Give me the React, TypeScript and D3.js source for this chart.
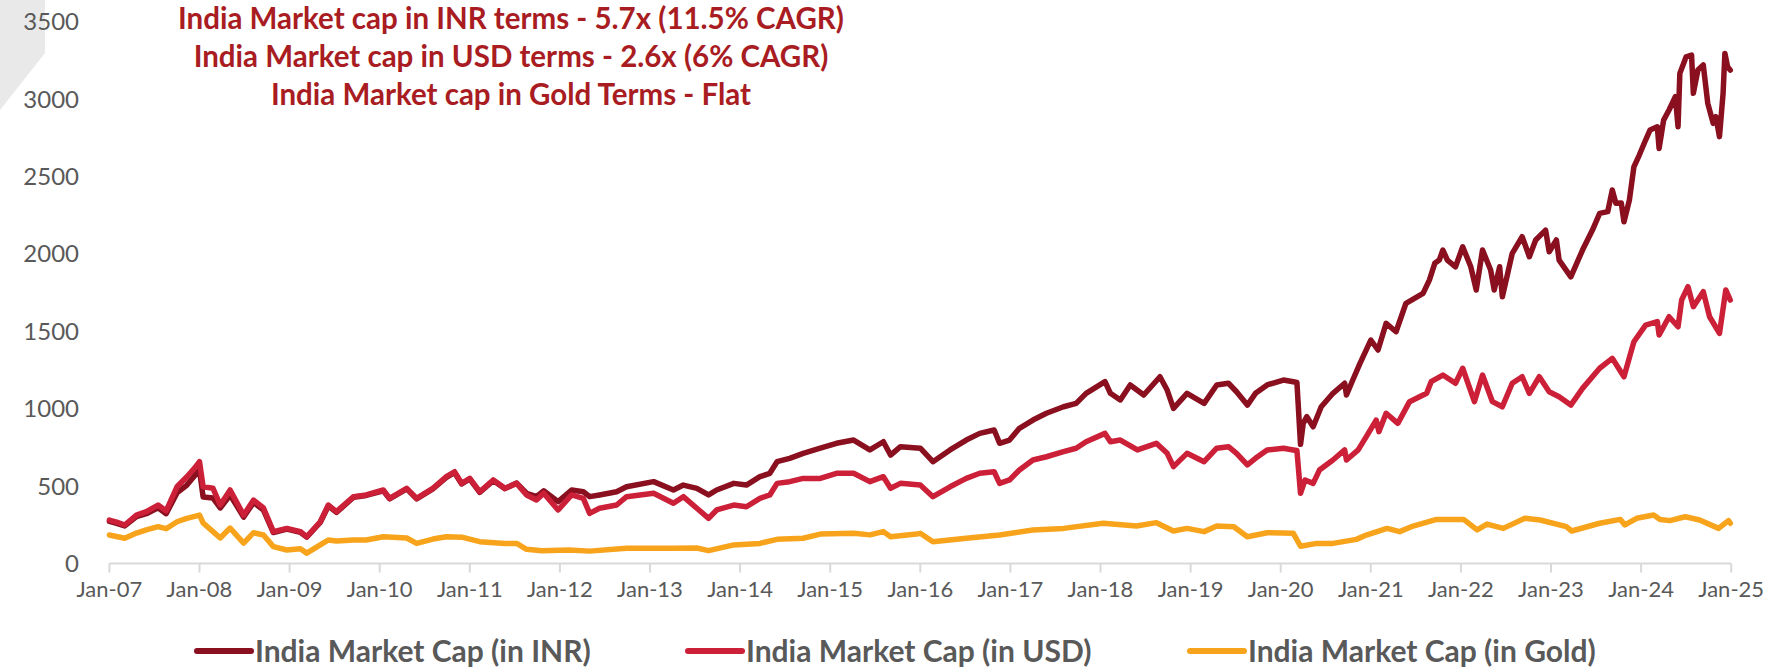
import React from 'react';
import * as d3 from 'd3';

const W = 1768;
const H = 668;

const titleLines = [
  'India Market cap in INR terms - 5.7x (11.5% CAGR)',
  'India Market cap in USD terms - 2.6x (6% CAGR)',
  'India Market cap in Gold Terms - Flat',
];

const xTickYears = d3.range(2007, 2026);
const yTickValues = [0, 500, 1000, 1500, 2000, 2500, 3000, 3500];

const seriesNames = ['India Market Cap (in INR)', 'India Market Cap (in USD)', 'India Market Cap (in Gold)'];
const seriesColors = ['#8A0F1F', '#CC2039', '#F7A41C'];

const inrYears = [2007.00,2007.08,2007.17,2007.30,2007.41,2007.54,2007.63,2007.75,2007.86,2007.95,2008.00,2008.04,2008.15,2008.23,2008.34,2008.49,2008.60,2008.71,2008.82,2008.97,2009.12,2009.19,2009.34,2009.43,2009.52,2009.71,2009.85,2010.04,2010.11,2010.30,2010.41,2010.59,2010.74,2010.83,2010.91,2011.00,2011.11,2011.26,2011.39,2011.52,2011.63,2011.74,2011.82,2011.98,2012.13,2012.26,2012.33,2012.44,2012.63,2012.74,2013.04,2013.26,2013.37,2013.52,2013.65,2013.74,2013.93,2014.07,2014.22,2014.33,2014.41,2014.55,2014.70,2014.89,2015.07,2015.26,2015.44,2015.59,2015.67,2015.78,2016.00,2016.14,2016.33,2016.51,2016.66,2016.82,2016.88,2016.99,2017.10,2017.25,2017.40,2017.59,2017.73,2017.84,2018.05,2018.11,2018.22,2018.33,2018.48,2018.66,2018.74,2018.81,2018.96,2019.15,2019.29,2019.42,2019.51,2019.63,2019.72,2019.85,2020.03,2020.14,2020.18,2020.22,2020.25,2020.29,2020.36,2020.45,2020.58,2020.71,2020.73,2020.80,2020.88,2021.00,2021.08,2021.17,2021.28,2021.39,2021.58,2021.65,2021.71,2021.76,2021.80,2021.85,2021.94,2022.02,2022.11,2022.17,2022.24,2022.33,2022.37,2022.43,2022.46,2022.57,2022.68,2022.76,2022.83,2022.94,2022.98,2023.06,2023.09,2023.22,2023.35,2023.46,2023.54,2023.63,2023.68,2023.72,2023.78,2023.81,2023.87,2023.92,2023.98,2024.05,2024.10,2024.18,2024.20,2024.25,2024.31,2024.38,2024.41,2024.43,2024.50,2024.56,2024.58,2024.63,2024.69,2024.74,2024.80,2024.83,2024.87,2024.91,2024.93,2024.96,2024.99];
const inrValues = [272,260,243,303,322,360,322,456,507,570,605,430,423,359,443,300,395,345,200,222,202,170,265,372,330,428,440,470,418,482,418,482,556,588,514,546,460,536,484,520,454,432,470,400,475,464,432,443,464,496,529,475,507,486,443,475,518,507,561,583,658,680,712,745,777,798,734,787,701,755,745,658,734,798,841,863,777,798,874,927,971,1013,1035,1100,1175,1100,1057,1154,1089,1207,1121,1003,1100,1035,1154,1165,1110,1024,1100,1154,1186,1175,1170,770,906,949,884,1013,1100,1165,1089,1186,1294,1444,1380,1552,1498,1682,1746,1832,1940,1961,2026,1961,1918,2047,1918,1768,2026,1897,1768,1918,1724,2005,2112,1983,2091,2155,2015,2091,1961,1853,2026,2155,2263,2274,2414,2328,2330,2209,2349,2564,2640,2737,2802,2823,2683,2866,2931,3017,2823,3168,3275,3286,3039,3189,3222,2974,2845,2888,2759,3039,3297,3211,3189];

const usdYears = [2007.00,2007.08,2007.17,2007.30,2007.41,2007.54,2007.63,2007.75,2007.86,2007.95,2008.00,2008.04,2008.15,2008.23,2008.34,2008.49,2008.60,2008.71,2008.82,2008.97,2009.12,2009.19,2009.34,2009.43,2009.52,2009.71,2009.85,2010.04,2010.11,2010.30,2010.41,2010.59,2010.74,2010.83,2010.91,2011.00,2011.11,2011.26,2011.39,2011.52,2011.63,2011.74,2011.82,2011.98,2012.13,2012.26,2012.33,2012.44,2012.63,2012.74,2013.04,2013.26,2013.37,2013.52,2013.65,2013.74,2013.93,2014.07,2014.22,2014.33,2014.41,2014.55,2014.70,2014.89,2015.07,2015.26,2015.44,2015.59,2015.67,2015.78,2016.00,2016.14,2016.33,2016.51,2016.66,2016.82,2016.88,2016.99,2017.10,2017.25,2017.40,2017.59,2017.73,2017.84,2018.05,2018.11,2018.22,2018.41,2018.62,2018.74,2018.81,2018.96,2019.15,2019.29,2019.42,2019.51,2019.63,2019.72,2019.85,2020.03,2020.14,2020.18,2020.22,2020.27,2020.36,2020.43,2020.58,2020.71,2020.73,2020.86,2020.95,2021.06,2021.09,2021.17,2021.30,2021.43,2021.62,2021.67,2021.80,2021.94,2022.02,2022.15,2022.24,2022.35,2022.46,2022.57,2022.68,2022.76,2022.87,2022.98,2023.09,2023.22,2023.35,2023.54,2023.68,2023.81,2023.92,2024.05,2024.18,2024.20,2024.31,2024.41,2024.45,2024.52,2024.58,2024.69,2024.76,2024.87,2024.94,2024.99];
const usdValues = [281,268,249,313,335,378,340,496,561,620,658,496,486,378,475,313,410,359,206,227,206,173,270,378,335,432,443,475,421,486,421,486,561,593,518,550,464,540,486,518,443,410,454,346,443,421,324,357,378,432,454,389,432,357,292,346,378,367,421,443,518,529,550,550,583,583,529,561,486,518,507,432,496,550,583,593,518,540,604,669,690,723,745,787,841,787,798,734,777,712,626,712,658,745,755,712,637,680,734,745,734,730,454,540,518,604,669,734,669,734,820,927,852,971,906,1046,1100,1175,1218,1165,1262,1046,1218,1046,1013,1165,1207,1100,1207,1110,1078,1024,1132,1262,1326,1207,1433,1541,1563,1477,1595,1530,1703,1789,1660,1757,1595,1488,1768,1703];

const goldYears = [2007.00,2007.17,2007.30,2007.41,2007.54,2007.63,2007.75,2007.86,2008.00,2008.04,2008.15,2008.23,2008.34,2008.49,2008.60,2008.71,2008.82,2008.97,2009.12,2009.19,2009.34,2009.43,2009.52,2009.71,2009.85,2010.04,2010.30,2010.41,2010.59,2010.74,2010.91,2011.11,2011.39,2011.52,2011.63,2011.80,2012.10,2012.33,2012.74,2013.26,2013.52,2013.65,2013.93,2014.22,2014.41,2014.70,2014.89,2015.26,2015.44,2015.59,2015.67,2015.96,2016.00,2016.14,2016.51,2016.88,2017.25,2017.59,2018.03,2018.40,2018.62,2018.81,2018.96,2019.15,2019.29,2019.48,2019.63,2019.85,2020.14,2020.22,2020.40,2020.58,2020.84,2020.95,2021.18,2021.32,2021.47,2021.73,2022.03,2022.18,2022.29,2022.47,2022.71,2022.88,2023.17,2023.23,2023.54,2023.77,2023.82,2023.95,2024.14,2024.21,2024.32,2024.49,2024.65,2024.86,2024.97,2024.99];
const goldValues = [184,163,197,217,238,225,270,292,313,262,206,165,229,132,199,184,109,87,95,67,120,152,145,152,152,173,165,130,158,173,170,141,130,130,92,83,88,80,98,98,100,83,120,130,156,163,190,195,185,206,173,190,195,141,163,184,217,227,260,242,264,210,227,206,242,238,173,199,195,112,130,130,156,184,227,206,242,285,285,217,255,227,292,281,238,210,260,285,249,292,313,285,277,302,281,227,277,260];

const legendLineStarts = [197, 688, 1190];

export default function App() {
  const x = d3.scaleLinear().domain([2007, 2025]).range([109.4, 1731.2]);
  const y = d3.scaleLinear().domain([0, 3500]).range([563.5, 22]);
  const line = d3
    .line<[number, number]>()
    .x((d) => x(d[0]))
    .y((d) => y(d[1]))
    .curve(d3.curveLinear);

  const series = [
    { years: inrYears, values: inrValues },
    { years: usdYears, values: usdValues },
    { years: goldYears, values: goldValues },
  ].map((s, i) => ({
    name: seriesNames[i],
    color: seriesColors[i],
    points: s.years.map((yr, j) => [yr, s.values[j]] as [number, number]),
  }));

  const fmt = (yr: number) => 'Jan-' + String(yr % 100).padStart(2, '0');
  const y0 = y(0);

  return (
    <svg
      width={W}
      height={H}
      style={{ position: 'absolute', left: 0, top: 0, display: 'block', background: '#fff' }}
      fontFamily="Lato, 'Open Sans', sans-serif"
    >
      <rect x={0} y={0} width={W} height={H} fill="#ffffff" />
      <polygon points="0,0 45,0 45,53 0,110" fill="#E9E9E9" />

      {/* y axis labels */}
      {yTickValues.map((v) => (
        <text key={v} x={79} y={y(v)} dy="0.35em" textAnchor="end" fontSize={24} fill="#595959">
          {v}
        </text>
      ))}

      {/* x axis */}
      <line x1={x(2007)} x2={x(2025)} y1={y0} y2={y0} stroke="#D9D9D9" strokeWidth={2} />
      {xTickYears.map((yr) => (
        <g key={yr}>
          <line x1={x(yr)} x2={x(yr)} y1={y0} y2={y0 + 9} stroke="#D9D9D9" strokeWidth={2} />
          <text x={x(yr)} y={589} dy="0.35em" textAnchor="middle" fontSize={22} fill="#595959">
            {fmt(yr)}
          </text>
        </g>
      ))}

      {/* series */}
      {series.map((s) => (
        <path
          key={s.name}
          d={line(s.points) || ''}
          fill="none"
          stroke={s.color}
          strokeWidth={5.5}
          strokeLinejoin="round"
          strokeLinecap="round"
        />
      ))}

      {/* title */}
      {titleLines.map((t, i) => (
        <text
          key={i}
          x={511}
          y={19 + i * 38}
          dy="0.35em"
          textAnchor="middle"
          fontSize={29.5}
          fontWeight={700}
          fill="#A81C22"
        >
          {t}
        </text>
      ))}

      {/* legend */}
      {series.map((s, i) => (
        <g key={s.name}>
          <line
            x1={legendLineStarts[i]}
            x2={legendLineStarts[i] + 54}
            y1={651}
            y2={651}
            stroke={s.color}
            strokeWidth={6}
            strokeLinecap="round"
          />
          <text x={legendLineStarts[i] + 58} y={651} dy="0.35em" fontSize={30} fontWeight={700} fill="#595959">
            {s.name}
          </text>
        </g>
      ))}
    </svg>
  );
}
